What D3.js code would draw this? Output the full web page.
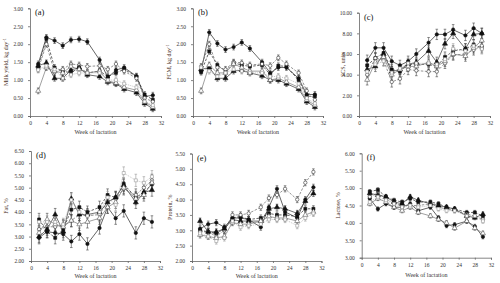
<!DOCTYPE html>
<html>
<head>
<meta charset="utf-8">
<script src="https://cdn.jsdelivr.net/npm/d3@7"></script>
<style>
  body { margin: 0; background: #fff; }
</style>
</head>
<body>
<script>
// Weeks at which the cows were sampled
const weeks = [2, 4, 6, 8, 10, 12, 14, 17, 19, 21, 23, 26, 28, 30];
const xTicks = [0, 4, 8, 12, 16, 20, 24, 28, 32];

// One row per group, in the order of the marker styles below
const milkYield = [
    [1.45, 2.19, 2.10, 1.96, 2.12, 2.14, 2.07, 1.56, 1.07, 1.28, 1.35, 1.11, 0.54, 0.58],
    [1.35, 2.15, 1.35, 1.25, 1.20, 1.35, 1.20, 1.25, 1.10, 1.20, 1.30, 1.10, 0.60, 0.45],
    [1.30, 2.00, 1.22, 1.30, 1.45, 1.42, 1.38, 1.40, 1.30, 1.45, 1.25, 1.05, 0.50, 0.40],
    [1.40, 1.48, 1.05, 1.05, 1.28, 1.35, 1.15, 1.10, 0.95, 0.90, 0.75, 0.65, 0.35, 0.20],
    [0.70, 1.35, 1.25, 1.20, 1.38, 1.30, 1.20, 1.25, 0.98, 0.92, 0.80, 0.72, 0.40, 0.25],
    [1.28, 1.40, 1.30, 1.05, 1.15, 1.20, 1.20, 1.20, 1.00, 1.00, 0.90, 0.80, 0.40, 0.30]
];
const fcm = [
    [1.25, 2.33, 2.02, 1.85, 1.92, 2.05, 1.88, 1.50, 1.20, 1.35, 1.35, 1.05, 0.60, 0.60],
    [1.22, 1.80, 1.42, 1.25, 1.48, 1.42, 1.38, 1.42, 1.15, 1.40, 1.38, 1.00, 0.55, 0.55],
    [1.38, 2.00, 1.35, 1.30, 1.50, 1.48, 1.42, 1.45, 1.40, 1.62, 1.45, 1.20, 0.70, 0.45],
    [1.30, 1.35, 1.05, 1.05, 1.25, 1.28, 1.20, 1.12, 1.00, 1.00, 0.90, 0.75, 0.40, 0.25],
    [0.70, 1.42, 1.20, 1.20, 1.45, 1.35, 1.25, 1.25, 1.00, 1.05, 0.95, 0.80, 0.45, 0.30],
    [1.35, 1.25, 1.10, 1.20, 1.30, 1.25, 1.20, 1.20, 1.10, 1.10, 1.05, 0.90, 0.50, 0.35]
];
const scs = [
    [5.4, 6.6, 6.6, 5.3, 4.9, 5.3, 6.0, 7.1, 7.9, 7.9, 8.35, 7.8, 8.5, 8.0],
    [4.9, 5.6, 6.1, 4.5, 4.3, 5.0, 5.0, 5.0, 4.8, 5.7, 6.3, 6.5, 6.9, 6.6],
    [4.0, 5.6, 5.4, 3.3, 3.6, 4.5, 4.4, 4.3, 4.3, 5.1, 5.9, 6.0, 6.4, 6.8],
    [4.5, 4.8, 6.0, 4.3, 4.5, 5.0, 5.2, 6.3, 5.2, 7.0, 8.0, 6.5, 7.9, 8.0],
    [3.5, 5.2, 5.7, 4.0, 4.5, 4.8, 4.8, 5.2, 4.8, 5.3, 6.0, 5.8, 6.6, 7.3],
    [4.3, 5.0, 5.3, 4.2, 4.6, 5.1, 5.1, 5.1, 5.0, 5.5, 6.5, 6.3, 6.8, 6.5]
];
const fat = [
    [2.95, 3.20, 3.15, 3.10, 2.80, 3.10, 2.70, 3.35, 4.20, 3.75, 4.05, 3.15, 3.75, 3.60],
    [3.70, 3.20, 2.95, 3.30, 4.10, 4.20, 4.00, 4.20, 4.70, 4.60, 5.15, 4.60, 4.80, 5.15],
    [3.30, 3.40, 3.40, 3.45, 3.65, 3.90, 3.85, 3.90, 4.45, 4.55, 4.95, 4.70, 5.00, 5.30],
    [3.00, 3.30, 3.90, 3.20, 4.55, 3.90, 3.90, 4.00, 4.40, 4.60, 5.10, 4.40, 4.80, 4.90],
    [3.15, 3.70, 3.50, 3.40, 3.65, 3.50, 3.60, 3.75, 4.20, 4.40, 5.00, 4.55, 4.70, 5.20],
    [3.60, 3.60, 3.60, 3.50, 4.50, 4.00, 3.85, 4.00, 4.60, 4.30, 5.60, 5.30, 5.20, 5.45]
];
const protein = [
    [3.05, 3.20, 3.25, 3.10, 3.40, 3.40, 3.35, 3.10, 3.75, 4.35, 3.60, 3.40, 4.00, 4.40],
    [3.00, 2.95, 2.90, 3.05, 3.40, 3.45, 3.35, 3.40, 3.55, 3.50, 3.50, 3.45, 3.70, 3.70],
    [2.95, 2.95, 2.80, 3.00, 3.50, 3.50, 3.55, 3.75, 4.05, 4.15, 4.35, 4.00, 4.55, 4.90],
    [3.30, 2.95, 2.95, 3.05, 3.35, 3.30, 3.30, 3.30, 3.70, 3.75, 3.70, 3.55, 3.95, 4.20],
    [2.85, 2.80, 2.75, 2.80, 3.25, 3.20, 3.20, 3.30, 3.45, 3.40, 3.40, 3.30, 3.50, 3.60],
    [2.90, 2.80, 2.65, 2.75, 3.30, 3.10, 3.15, 3.20, 3.35, 3.35, 3.35, 3.15, 3.40, 3.55]
];
const lactose = [
    [4.70, 4.40, 4.55, 4.45, 4.45, 4.55, 4.35, 4.45, 4.15, 3.92, 3.95, 4.05, 3.90, 3.60],
    [4.90, 4.95, 4.75, 4.65, 4.60, 4.70, 4.60, 4.60, 4.55, 4.45, 4.40, 4.30, 4.30, 4.20],
    [4.75, 4.85, 4.70, 4.55, 4.50, 4.50, 4.50, 4.55, 4.45, 4.40, 4.35, 4.25, 4.20, 4.10],
    [4.85, 4.80, 4.75, 4.60, 4.55, 4.75, 4.65, 4.55, 4.50, 4.45, 4.40, 4.20, 4.15, 4.25],
    [4.55, 4.70, 4.60, 4.45, 4.35, 4.45, 4.30, 4.20, 4.10, 4.00, 3.85, 4.05, 3.85, 3.70],
    [4.60, 4.75, 4.65, 4.55, 4.45, 4.50, 4.45, 4.50, 4.40, 4.35, 4.35, 4.20, 4.20, 4.05]
];

// Standard error for the bars of each panel
const panelSE = [0.08, 0.08, 0.5, 0.25, 0.1, 0.06];

// Marker and line look of each group
const styles = [
    { shape: d3.symbolCircle,   fill: "#111", stroke: "#111", line: "#222", dash: null },
    { shape: d3.symbolSquare,   fill: "#111", stroke: "#111", line: "#222", dash: "2.5,1.5" },
    { shape: d3.symbolCircle,   fill: "#fff", stroke: "#333", line: "#666", dash: "2.5,1.5" },
    { shape: d3.symbolTriangle, fill: "#111", stroke: "#111", line: "#333", dash: null },
    { shape: d3.symbolTriangle, fill: "#fff", stroke: "#555", line: "#777", dash: null },
    { shape: d3.symbolSquare,   fill: "#fff", stroke: "#999", line: "#aaa", dash: "1,1" }
];

const panels = [
    { tag: "(a)", title: "Milk yield, kg day", sup: "-1", data: milkYield, domain: [0, 3], ticks: d3.range(0, 3.01, 0.5),
      x0: 30, x1: 161, yTop: 8.3, yBot: 116, titleX: 6, labelY: 134 },
    { tag: "(b)", title: "FCM, kg day", sup: "-1", data: fcm, domain: [0, 3], ticks: d3.range(0, 3.01, 0.5),
      x0: 193, x1: 323, yTop: 8.3, yBot: 116, titleX: 169, labelY: 134 },
    { tag: "(c)", title: "SCS, units", sup: "", data: scs, domain: [0, 10], ticks: d3.range(0, 10.01, 2),
      x0: 359, x1: 490, yTop: 12.7, yBot: 116, titleX: 343, labelY: 134 },
    { tag: "(d)", title: "Fat, %", sup: "", data: fat, domain: [2, 6.5], ticks: d3.range(2, 6.51, 0.5),
      x0: 31, x1: 160, yTop: 151, yBot: 261, titleX: 6, labelY: 277.5 },
    { tag: "(e)", title: "Protein, %", sup: "", data: protein, domain: [2, 5.5], ticks: d3.range(2, 5.51, 0.5),
      x0: 192, x1: 321.5, yTop: 153.5, yBot: 261, titleX: 170, labelY: 278 },
    { tag: "(f)", title: "Lactose, %", sup: "", data: lactose, domain: [3, 6], ticks: d3.range(3, 6.01, 0.5),
      x0: 361.7, x1: 491, yTop: 153.3, yBot: 257.7, titleX: 338, labelY: 277 }
];

const width = 500, height = 283;

const svg = d3.select("body").append("svg")
    .attr("width", width)
    .attr("height", height)
    .style("font-family", "'Liberation Serif', 'Times New Roman', serif");

panels.forEach((p, pi) => {
    const xScale = d3.scaleLinear().domain([0, 32]).range([p.x0, p.x1]);
    const yScale = d3.scaleLinear().domain(p.domain).range([p.yBot, p.yTop]);
    const g = svg.append("g");

    // Axes
    const xAxis = g.append("g")
        .attr("transform", `translate(0,${p.yBot})`)
        .call(d3.axisBottom(xScale).tickValues(xTicks).tickSize(2).tickPadding(3).tickFormat(d3.format("d")));
    const yAxis = g.append("g")
        .attr("transform", `translate(${p.x0},0)`)
        .call(d3.axisLeft(yScale).tickValues(p.ticks).tickSize(2).tickPadding(5).tickFormat(d3.format(".2f")));
    [xAxis, yAxis].forEach(a => {
        a.select(".domain").attr("stroke", "#666").attr("stroke-width", 0.8);
        a.selectAll(".tick line").attr("stroke", "#666").attr("stroke-width", 0.8);
        a.selectAll(".tick text").attr("fill", "#333").style("font-size", "5.5px").style("font-family", "'Liberation Serif', serif");
    });

    // Axis titles
    g.append("text")
        .attr("x", (p.x0 + p.x1) / 2)
        .attr("y", p.labelY)
        .attr("text-anchor", "middle")
        .attr("fill", "#333")
        .style("font-size", "6px")
        .text("Week of lactation");

    const yt = g.append("text")
        .attr("transform", `translate(${p.titleX},${(p.yTop + p.yBot) / 2}) rotate(-90)`)
        .attr("text-anchor", "middle")
        .attr("dy", "0.35em")
        .attr("fill", "#4a3025")
        .style("font-size", "6px")
        .text(p.title);
    if (p.sup) {
        yt.append("tspan").attr("dy", "-2").style("font-size", "4px").text(p.sup);
    }

    // Panel tag
    g.append("text")
        .attr("x", p.x0 + 5)
        .attr("y", p.yTop + 7)
        .attr("fill", "#111")
        .style("font-size", "8.5px")
        .text(p.tag);

    const se = panelSE[pi];
    const line = d3.line().x(d => xScale(d.w)).y(d => yScale(d.v));
    const series = p.data.map(vals => weeks.map((w, j) => ({ w: w, v: vals[j] })));

    // Lines
    series.forEach((pts, i) => {
        const st = styles[i];
        g.append("path")
            .datum(pts)
            .attr("d", line)
            .attr("fill", "none")
            .attr("stroke", st.line)
            .attr("stroke-width", 0.7)
            .attr("stroke-dasharray", st.dash);
    });

    // Error bars
    series.forEach((pts, i) => {
        const st = styles[i];
        const eb = g.append("g").attr("stroke", st.stroke === "#999" ? "#999" : "#444").attr("stroke-width", 0.6);
        pts.forEach(d => {
            const cx = xScale(d.w);
            const yHi = yScale(d.v + se), yLo = yScale(d.v - se);
            eb.append("line").attr("x1", cx).attr("x2", cx).attr("y1", yHi).attr("y2", yLo);
            eb.append("line").attr("x1", cx - 1.3).attr("x2", cx + 1.3).attr("y1", yHi).attr("y2", yHi);
            eb.append("line").attr("x1", cx - 1.3).attr("x2", cx + 1.3).attr("y1", yLo).attr("y2", yLo);
        });
    });

    // Markers
    series.forEach((pts, i) => {
        const st = styles[i];
        const size = st.shape === d3.symbolTriangle ? 11 : 9;
        g.selectAll(null)
            .data(pts)
            .join("path")
            .attr("transform", d => `translate(${xScale(d.w)},${yScale(d.v)})`)
            .attr("d", d3.symbol().type(st.shape).size(size))
            .attr("fill", st.fill)
            .attr("stroke", st.stroke)
            .attr("stroke-width", 0.6);
    });
});
</script>
</body>
</html>
